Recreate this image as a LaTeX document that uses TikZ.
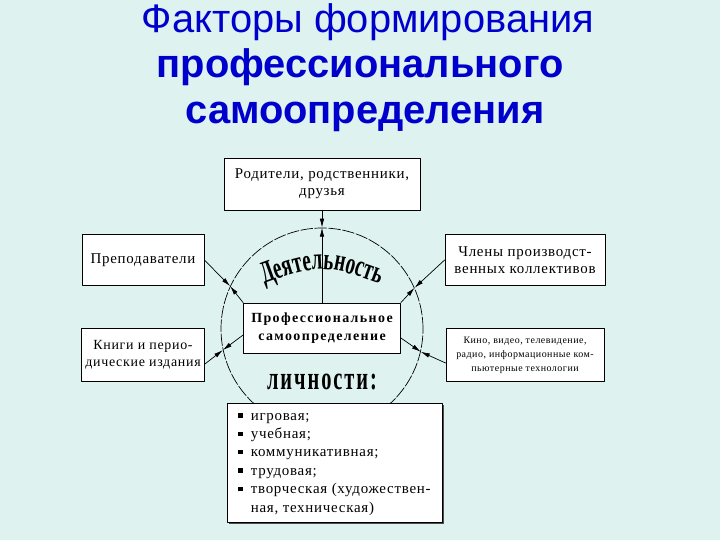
\documentclass[tikz,border=0pt]{standalone}
\usepackage{fontspec}
\setmainfont{Liberation Serif}
\newfontfamily\titlefont{Liberation Sans}
\newfontfamily\boxfont[LetterSpace=5]{Liberation Serif}
\newfontfamily\proffont[LetterSpace=10]{Liberation Serif}
\newfontfamily\artfont[FakeStretch=0.62,LetterSpace=6]{Liberation Serif}
\usetikzlibrary{arrows.meta,decorations.text,shadows}

\definecolor{slidebg}{RGB}{222,243,240}
\definecolor{titleblue}{RGB}{0,0,205}

\newcommand{\listmark}{\rule[2.5bp]{4.5bp}{4.5bp}}

\tikzset{
  heading/.style={anchor=base, inner sep=0pt, text=titleblue,
    font=\titlefont\fontsize{40}{46}\selectfont},
  factor/.style={draw=black, fill=white, line width=0.8bp, inner sep=1bp,
    align=center, font=\boxfont\fontsize{15}{17}\selectfont},
  link/.style={-{Latex[length=9bp,width=4.5bp]}, line width=0.7bp},
}

\begin{document}
\begin{tikzpicture}[x=1bp, y=-1bp, line cap=round, line join=round]

% ----------------------------
% PARAMETERS
% ----------------------------
\def\cx{322}      % ring centre x
\def\cy{329}      % ring centre y
\def\R{101}       % ring radius

% background of the slide
\fill[slidebg] (0,0) rectangle (720,540);
\useasboundingbox (0,0) rectangle (720,540);

% ----------------------------
% TITLE
% ----------------------------
\node[heading] (title1) at (368,33) {Факторы формирования};
\node[heading, font=\titlefont\bfseries\fontsize{40}{46}\selectfont] (title2) at (360,78) {профессионального};
\node[heading, font=\titlefont\bfseries\fontsize{40}{46}\selectfont] (title3) at (365,124) {самоопределения};

% ----------------------------
% RING (activity of the person)
% ----------------------------
\node[draw, circle, minimum size=2*\R bp, inner sep=0pt, line width=0.7bp,
  dash pattern=on 12bp off 2bp] (ring) at (\cx,\cy) {};

% ----------------------------
% OUTER FACTORS
% ----------------------------
\node[factor, minimum width=196bp, minimum height=52bp] (family) at (\cx,184)
  {Родители, родственники,\\друзья};
\node[factor, minimum width=122bp, minimum height=51bp] (teach) at (143,260)
  {Преподаватели};
\node[factor, minimum width=160bp, minimum height=51bp] (crew) at (525,260)
  {Члены производст-\\венных коллективов};
\node[factor, minimum width=123bp, minimum height=53bp,
  font=\boxfont\fontsize{14}{17}\selectfont] (books) at (143,355)
  {Книги и перио-\\дические издания};
\node[factor, minimum width=158bp, minimum height=53bp,
  font=\boxfont\fontsize{10}{14}\selectfont] (media) at (525,355)
  {Кино, видео, телевидение,\\радио, информационные ком-\\пьютерные технологии};

% centre
\node[factor, minimum width=157bp, minimum height=50bp,
  font=\proffont\bfseries\fontsize{14}{18}\selectfont] (prof) at (\cx,328)
  {Профессиональное\\самоопределение};

% ----------------------------
% KINDS OF ACTIVITY
% ----------------------------
\node[factor, minimum width=215bp, minimum height=119bp, align=left,
  font=\boxfont\fontsize{15}{18.5}\selectfont,
  drop shadow={shadow xshift=2bp, shadow yshift=-2bp, fill=black!70, opacity=1}]
  (kinds) at (334.5,462.5)
  {\begin{tabular}{@{}l@{\hspace{8bp}}l@{}}
    \listmark & игровая;\\
    \listmark & учебная;\\
    \listmark & коммуникативная;\\
    \listmark & трудовая;\\
    \listmark & творческая (художествен-\\
              & ная, техническая)
  \end{tabular}};

% ----------------------------
% WORDART LABELS
% ----------------------------
\path[decorate, decoration={text along path, text align=center,
  text={|\artfont\bfseries\fontsize{31}{31}\selectfont|Деятельность}}]
  (245,291) .. controls (322,262) .. (399,291);
\node[inner sep=0pt, anchor=base, font=\artfont\bfseries\fontsize{33}{33}\selectfont]
  (person) at (\cx,389) {личности:};

% ----------------------------
% ARROWS TO THE RING
% ----------------------------
\draw[link] (family.south) -- (ring.90);
\draw[link] (prof.north) -- (ring.90);

\draw[link] (teach.east) -- (ring.155.7);
\draw[link] (prof.north west) -- (ring.155.7);

\draw[link] (crew.west) -- (ring.24.6);
\draw[link] (prof.north east) -- (ring.24.6);

\draw[link] ([yshift=-9bp]books.east) -- (ring.192.5);
\draw[link] ([yshift=-7bp]prof.west) -- (ring.192.5);

\draw[link] ([yshift=-10bp]prof.east) -- (ring.-13);
\draw[link] ([yshift=-8bp]media.west) -- (ring.-13);

\end{tikzpicture}
\end{document}
